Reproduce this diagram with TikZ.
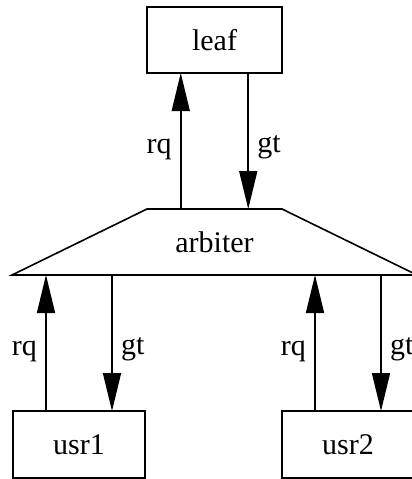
\documentclass[tikz,border=0pt]{standalone}
\usepackage{fontspec}
\setmainfont{Liberation Serif}
\usetikzlibrary{arrows.meta,calc}
\begin{document}
\begin{tikzpicture}[x=1pt,y=-1pt,
  every node/.style={font=\fontsize{30}{35}\selectfont},
  box/.style={draw,line width=1.6pt,outer sep=0pt,inner sep=0pt},
  arr/.style={line width=1.6pt,-{Triangle[length=38pt,width=18pt]}},
  lbl/.style={inner sep=0pt}]
\useasboundingbox (0,0) rectangle (412,479);
\fill[white] (0,0) rectangle (412,479);
\node[box,minimum width=135pt,minimum height=66pt] (leaf) at (214.5,40) {leaf};
\node[box,minimum width=132pt,minimum height=67pt] (usr1) at (79,444.5) {usr1};
\node[box,minimum width=132pt,minimum height=67pt] (usr2) at (348,444.5) {usr2};
\node[outer sep=0pt,inner sep=0pt,minimum width=405pt,minimum height=66pt] (arb) at (214.5,242) {arbiter};
\draw[line width=1.6pt,line join=miter]
  ($(arb.north)+(-67.5,0)$) -- ($(arb.north)+(67.5,0)$) -- (arb.south east) -- (arb.south west) -- cycle;
% anchor points
\coordinate (lq1) at ($(leaf.south west)!.25!(leaf.south east)$);
\coordinate (lq3) at ($(leaf.south west)!.75!(leaf.south east)$);
\coordinate (aq1) at ($(usr1.north west)!.25!(usr1.north east)$);
\coordinate (aq3) at ($(usr1.north west)!.75!(usr1.north east)$);
\coordinate (bq1) at ($(usr2.north west)!.25!(usr2.north east)$);
\coordinate (bq3) at ($(usr2.north west)!.75!(usr2.north east)$);
% top arrows
\draw[arr] (arb.north -| lq1) -- (lq1);
\draw[arr] (lq3) -- (arb.north -| lq3);
% bottom arrows
\draw[arr] (aq1) -- (arb.south -| aq1);
\draw[arr] (arb.south -| aq3) -- (aq3);
\draw[arr] (bq1) -- (arb.south -| bq1);
\draw[arr] (arb.south -| bq3) -- (bq3);
% labels
\node[lbl,anchor=east] (l1) at ($(lq1)+(-9,76)$) {rq};
\node[lbl,anchor=west] (l2) at ($(lq3)+(9,74)$) {gt};
\node[lbl,anchor=east] (l3) at ($(aq1)+(-9,-60)$) {rq};
\node[lbl,anchor=west] (l4) at ($(aq3)+(9,-62)$) {gt};
\node[lbl,anchor=east] (l5) at ($(bq1)+(-9,-60)$) {rq};
\node[lbl,anchor=west] (l6) at ($(bq3)+(9,-62)$) {gt};
\end{tikzpicture}
\end{document}
